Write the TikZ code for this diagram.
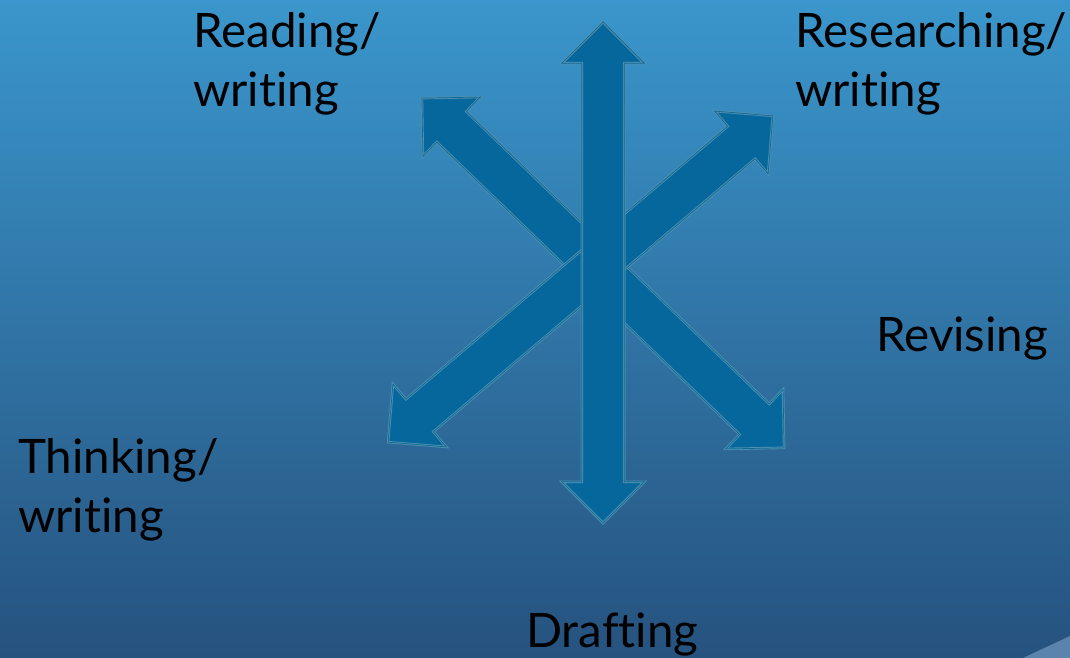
\documentclass[tikz,border=0pt]{standalone}
\usepackage{fontspec}
\setmainfont{Lato}[Ligatures={NoCommon,NoRare}]
\usetikzlibrary{shapes.arrows}

\definecolor{bgTop}{HTML}{3A96CC}
\definecolor{bgBottom}{HTML}{26527E}
\definecolor{arrowFill}{HTML}{05679C}
\definecolor{arrowRim}{HTML}{4F8FB0}
\definecolor{arrowEdge}{HTML}{0B6A97}
\definecolor{swooshBlue}{HTML}{5A84AE}

\tikzset{
  blockarrow/.style={double arrow, double arrow head extend=20bp,
    inner xsep=0pt, inner ysep=20bp, minimum height=#1,
    fill=arrowFill, draw=arrowRim, line width=2.5bp,
    postaction={draw=arrowEdge, line width=0.7bp}},
  stage/.style={anchor=base west, inner sep=0pt, align=left,
    font=\fontsize{47.5bp}{59bp}\selectfont}
}

\begin{document}
\begin{tikzpicture}[x=1bp,y=-1bp]
    \useasboundingbox (0,0) rectangle (1070,658);
    \shade[top color=bgTop, bottom color=bgBottom] (0,0) rectangle (1070,658);
    \fill[swooshBlue] (1023,658) .. controls (1040,650) and (1055,643) .. (1070,636) -- (1070,658) -- cycle;

    % the three double arrows
    \node[blockarrow=503.5bp, rotate=-44] (downArrow) at (603,273) {};
    \node[blockarrow=504.5bp, rotate=40.3] (upArrow) at (580.5,279) {};
    \node[blockarrow=501bp, rotate=90] (vertArrow) at (603,272.5) {};

    % stages (base of the last line)
    \node[stage] (reading) at (193,107) {Reading/\\writing};
    \node[stage] (researching) at (795,107) {Researching/\\writing};
    \node[stage] (revising) at (876,351) {Revising};
    \node[stage] (thinking) at (18,532) {Thinking/\\writing};
    \node[stage] (drafting) at (526,647) {Drafting};
\end{tikzpicture}
\end{document}
